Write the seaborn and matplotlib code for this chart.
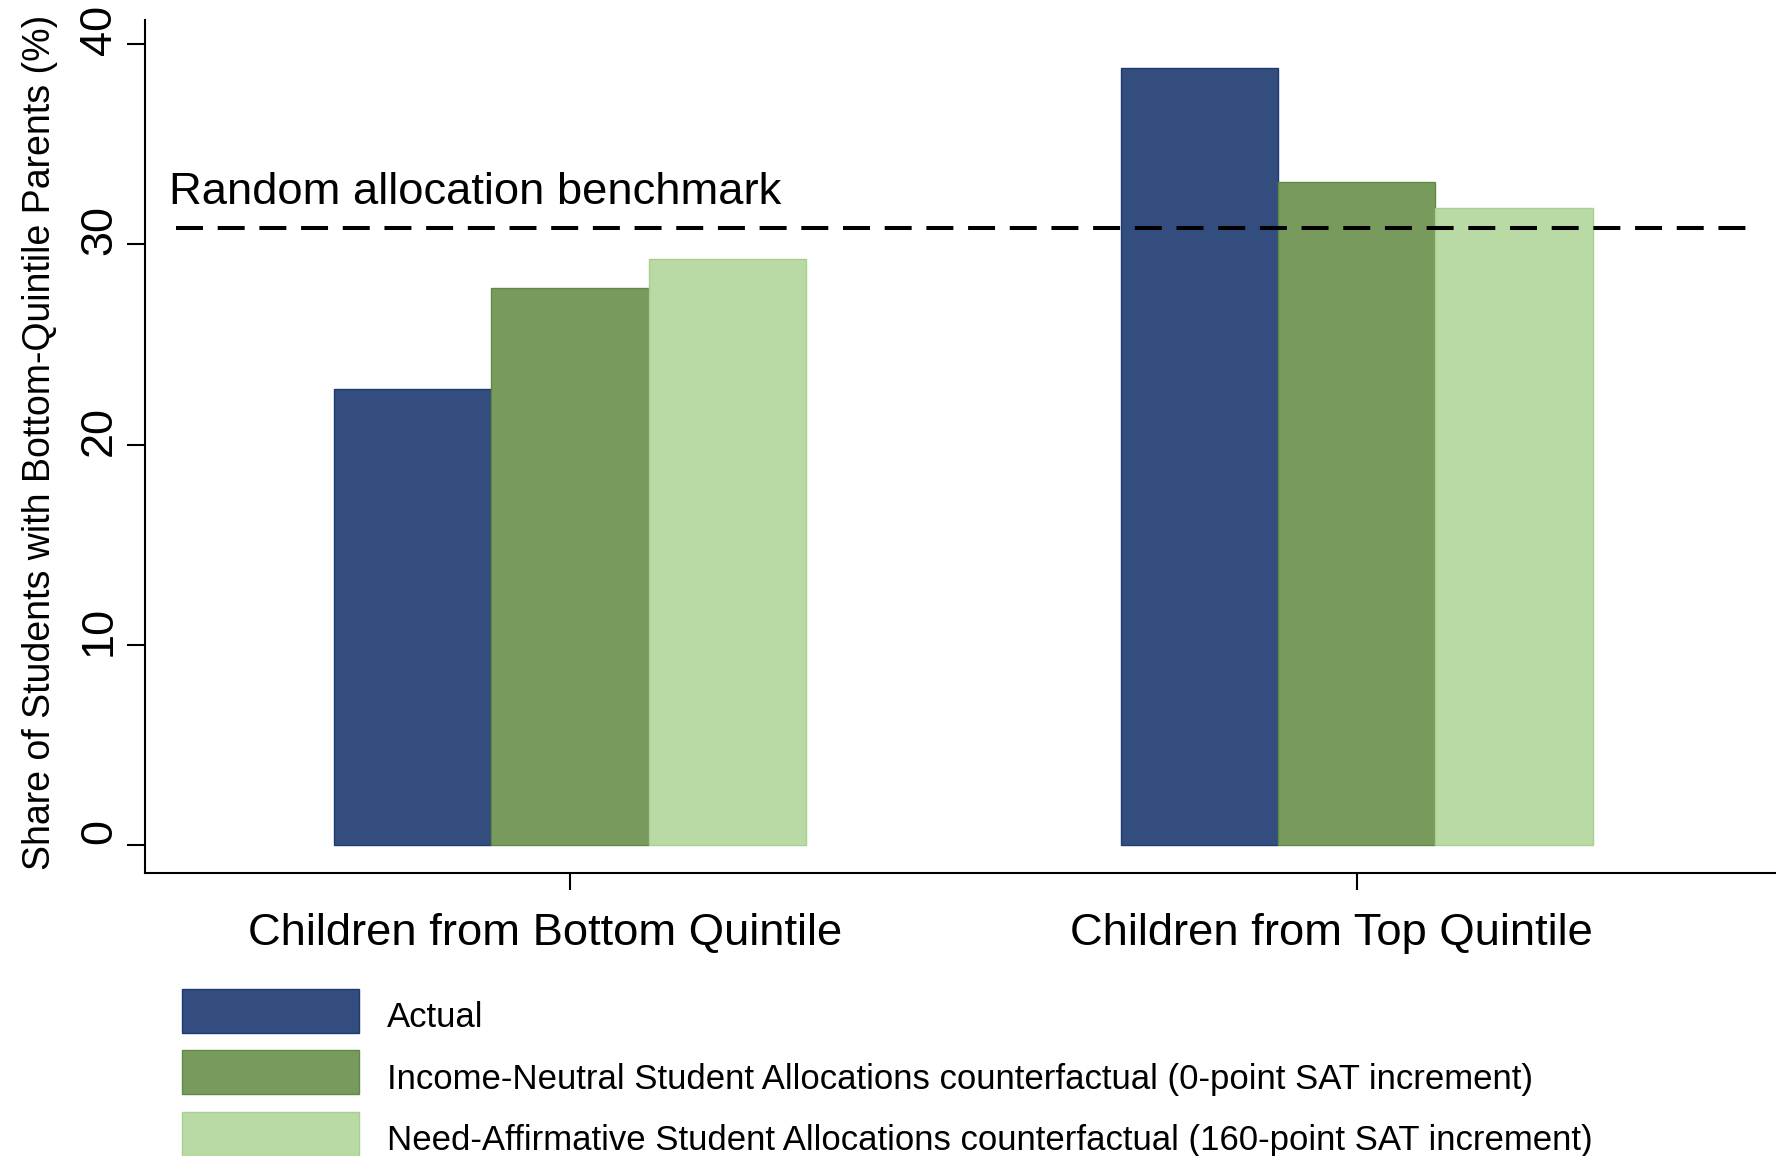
import pandas as pd
import seaborn as sns
import matplotlib.pyplot as plt
from matplotlib.transforms import ScaledTranslation
from matplotlib.legend_handler import HandlerPatch

# Values
groups = ['Children from Bottom Quintile', 'Children from Top Quintile']
series = ['Actual',
          'Income-Neutral Student Allocations counterfactual (0-point SAT increment)',
          'Need-Affirmative Student Allocations counterfactual (160-point SAT increment)']
actual = [22.8, 38.8]
income_neutral = [27.8, 33.1]
need_affirmative = [29.25, 31.8]
benchmark = 30.8
yticks = [0, 10, 20, 30, 40]

colors = ['#334E7E', '#789B5D', '#B9DAA4']
edges = ['#1F3A6E', '#5E8A45', '#A6CF90']

df = pd.DataFrame({
    'group': groups * 3,
    'series': [series[0]] * 2 + [series[1]] * 2 + [series[2]] * 2,
    'share': actual + income_neutral + need_affirmative,
})

sns.set_style('ticks')
plt.rcParams['font.family'] = ['Liberation Sans', 'DejaVu Sans']
for key in ['text.color', 'axes.labelcolor', 'xtick.color', 'ytick.color', 'axes.edgecolor']:
    plt.rcParams[key] = 'black'

fig = plt.figure(figsize=(17.76, 11.56), dpi=100)
ax = fig.add_axes([145 / 1776, 283 / 1156, 1 - 145 / 1776, (1136 - 283) / 1156])

sns.barplot(data=df, x='group', y='share', hue='series', hue_order=series,
            palette=colors, width=0.6, saturation=1, gap=0, ax=ax)

for cont, ec in zip(ax.containers, edges):
    for bar in cont:
        bar.set_edgecolor(ec)
        bar.set_linewidth(1)

ax.get_legend().remove()

# benchmark line and label
ax.plot([-0.5, 1.5], [benchmark, benchmark], color='black', lw=2.9,
        dashes=(6.7, 3.65), zorder=5)
ax.text(-0.509, 32.0, 'Random allocation benchmark', fontsize=32.7,
        ha='left', va='baseline')

ax.set_xlim(-0.54, 1.533)
ax.set_ylim(-1.38, 41.2)
ax.set_yticks(yticks)
ax.set_yticklabels([str(t) for t in yticks], rotation=90, va='center')
ax.tick_params(axis='y', labelsize=32.5, length=13, width=1.5, pad=5)
ax.tick_params(axis='x', labelsize=32.7, length=12, width=1.5, pad=17)
ax.set_xlabel('')
ax.set_ylabel('Share of Students with Bottom-Quintile Parents (%)', fontsize=27)
ax.yaxis.set_label_coords(-0.0534, 0.505)

# Stata-like label offsets
for lab in ax.get_xticklabels():
    lab.set_transform(lab.get_transform() + ScaledTranslation(-0.25, 0, fig.dpi_scale_trans))
for lab in ax.get_yticklabels():
    lab.set_transform(lab.get_transform() + ScaledTranslation(0, 0.14, fig.dpi_scale_trans))

sns.despine(ax=ax)
for side in ['left', 'bottom']:
    ax.spines[side].set_linewidth(1.5)


# legend below the plot; boxes raised a little relative to the text baseline
def raised_box(legend, orig_handle, xdescent, ydescent, width, height, fontsize):
    return plt.Rectangle((-xdescent, -ydescent + 3.6), width, height)


handles = [plt.Rectangle((0, 0), 1, 1, facecolor=c, edgecolor=e, lw=1)
           for c, e in zip(colors, edges)]
fig.legend(handles, series, loc='upper left', bbox_to_anchor=(182 / 1776, 1 - 994 / 1156),
           frameon=False, fontsize=25, handlelength=5.09, handleheight=1.574,
           labelspacing=0.50, handletextpad=0.82, borderpad=0, borderaxespad=0,
           handler_map={plt.Rectangle: HandlerPatch(patch_func=raised_box)})

fig.savefig('out.png', dpi=100)
